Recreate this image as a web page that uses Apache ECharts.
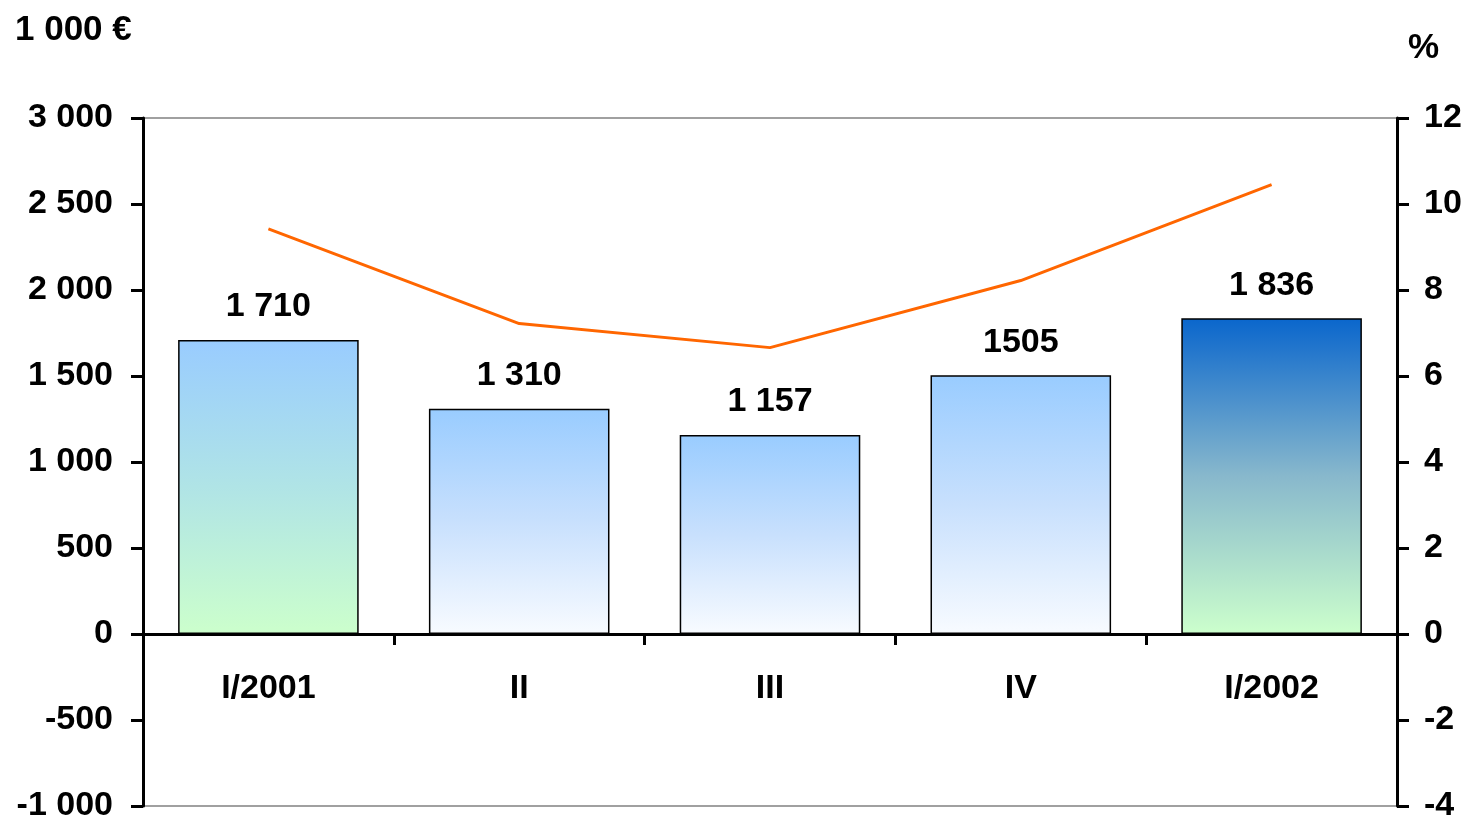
<!DOCTYPE html>
<html>
<head>
<meta charset="utf-8">
<script src="https://cdn.jsdelivr.net/npm/echarts@6/dist/echarts.min.js"></script>
<style>
  html, body { margin: 0; padding: 0; background: #fff; }
  #chart { width: 1468px; height: 821px; }
</style>
</head>
<body>
<div id="chart"></div>
<script>
// 数据
const categories = ['I/2001', 'II', 'III', 'IV', 'I/2002'];
const amounts = [1710, 1310, 1157, 1505, 1836];
const amountLabels = ['1 710', '1 310', '1 157', '1505', '1 836'];
const growthPct = [9.42, 7.22, 6.66, 8.22, 10.45];

// 每根柱子的渐变（上 -> 中 -> 下）
const barGradients = [
    ['#99ccff', '#b0e4e6', '#ccffcc'],
    ['#99ccff', '#c8e0fd', '#f8fbff'],
    ['#99ccff', '#c8e0fd', '#f8fbff'],
    ['#99ccff', '#c8e0fd', '#f8fbff'],
    ['#0a66cc', '#88b8cc', '#ccffcc']
];

const FONT = '"Liberation Sans", Arial, sans-serif';
const txt = { color: '#000', fontFamily: FONT, fontWeight: 'bold', fontSize: 34 };

function spaced(v) {
    const s = String(Math.abs(v)).replace(/\B(?=(\d{3})+(?!\d))/g, ' ');
    return (v < 0 ? '-' : '') + s;
}

const chart = echarts.init(document.getElementById('chart'));

chart.setOption({
    animation: false,
    backgroundColor: '#fff',
    grid: {
        left: 143, right: 71, top: 118, bottom: 15,
        outerBoundsMode: 'none', containLabel: false,
        show: true, borderColor: '#a0a0a0', borderWidth: 2, backgroundColor: 'transparent'
    },
    graphic: [
        { type: 'text', left: 15, top: 13, style: { text: '1 000 €', fill: '#000', font: 'bold 35px ' + FONT } },
        { type: 'text', left: 1408, top: 31, style: { text: '%', fill: '#000', font: 'bold 35px ' + FONT } }
    ],
    xAxis: [
        {
            // 零线上的坐标轴（只画线和刻度）
            type: 'category',
            data: categories,
            axisLine: { onZero: true, lineStyle: { color: '#000', width: 3 } },
            axisTick: { show: true, length: 11, inside: false, lineStyle: { color: '#000', width: 3 } },
            axisLabel: { show: false },
            splitLine: { show: false }
        },
        {
            // 类目标签，放在零线下方
            type: 'category',
            data: categories,
            position: 'bottom',
            offset: -171,
            axisLine: { show: false, onZero: false },
            axisTick: { show: false },
            axisLabel: Object.assign({ margin: 37 }, txt),
            splitLine: { show: false }
        }
    ],
    yAxis: [
        {
            type: 'value', min: -1000, max: 3000, interval: 500,
            axisLine: { show: true, onZero: false, lineStyle: { color: '#000', width: 3 } },
            axisTick: { show: true, length: 12, lineStyle: { color: '#000', width: 3 } },
            axisLabel: Object.assign({ margin: 30, formatter: spaced }, txt),
            splitLine: { show: false }
        },
        {
            type: 'value', min: -4, max: 12, interval: 2,
            axisLine: { show: true, onZero: false, lineStyle: { color: '#000', width: 3 } },
            axisTick: { show: true, length: 12, lineStyle: { color: '#000', width: 3 } },
            axisLabel: Object.assign({ margin: 27 }, txt),
            splitLine: { show: false }
        }
    ],
    series: [
        {
            type: 'bar',
            yAxisIndex: 0,
            barWidth: '72%',
            data: amounts.map((v, i) => ({
                value: v,
                itemStyle: {
                    color: new echarts.graphic.LinearGradient(0, 0, 0, 1, [
                        { offset: 0, color: barGradients[i][0] },
                        { offset: 0.5, color: barGradients[i][1] },
                        { offset: 1, color: barGradients[i][2] }
                    ])
                }
            })),
            itemStyle: { borderColor: '#000', borderWidth: 1.5 },
            label: {
                show: true, position: 'top', distance: 16,
                formatter: p => amountLabels[p.dataIndex],
                color: '#000', fontFamily: FONT, fontWeight: 'bold', fontSize: 34
            },
            z: 2
        },
        {
            type: 'line',
            yAxisIndex: 1,
            data: growthPct,
            symbol: 'none',
            lineStyle: { color: '#ff6600', width: 3 },
            z: 3
        }
    ]
});
</script>
</body>
</html>
